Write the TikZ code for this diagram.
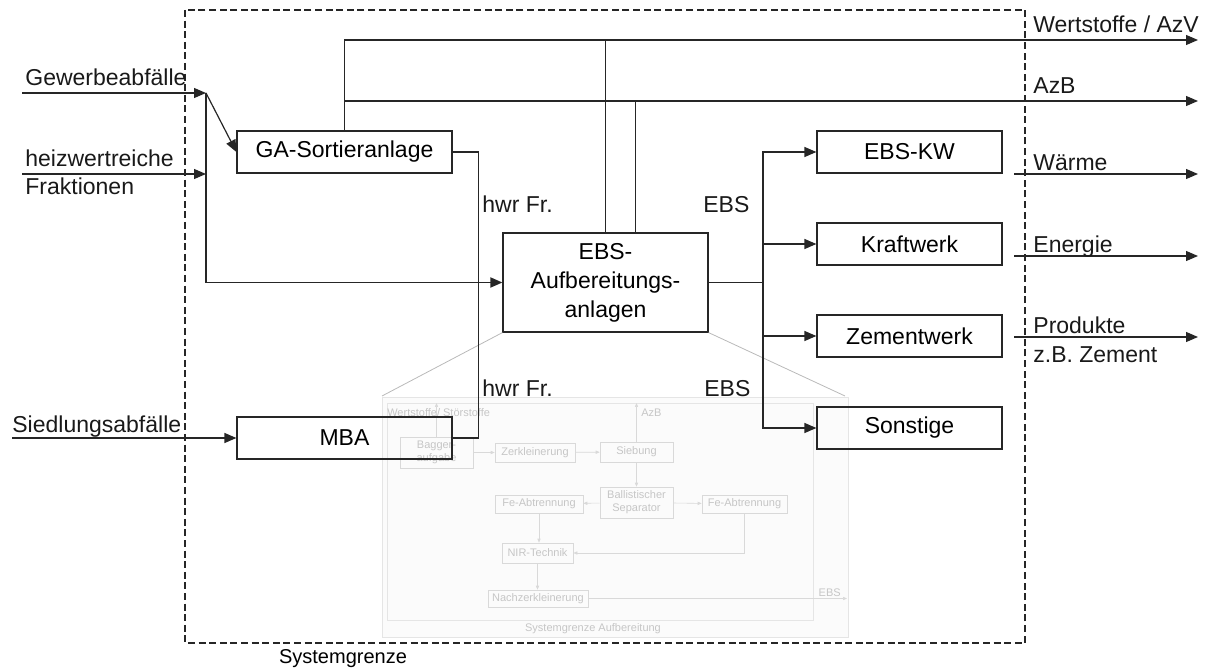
\documentclass[tikz,border=0pt]{standalone}
\usepackage{fontspec}
\setmainfont{Liberation Sans}
\usetikzlibrary{arrows.meta}

\tikzstyle{stage} = [rectangle, draw=black!85, line width=0.6pt, minimum width=107.5pt,
minimum height=21pt, inner sep=0pt, align=center, font=\fontsize{11.5}{14.5}\selectfont]
\tikzstyle{plant} = [stage, minimum width=92.5pt, node distance=46pt]
\tikzstyle{tag} = [inner sep=0pt, anchor=base west, font=\fontsize{11.5}{14}\selectfont, text=black!90]
\tikzstyle{flow} = [draw=black!85, line width=0.6pt]
\tikzstyle{arrow} = [flow, -{Triangle[length=6pt,width=5pt]}]
\tikzstyle{faint} = [rectangle, draw=gray!30, line width=0.3pt, inner sep=0pt, align=center,
text=gray!45, font=\fontsize{5.5}{6.5}\selectfont]
\tikzstyle{faintline} = [draw=gray!30, line width=0.3pt, -{Triangle[length=2pt,width=1.6pt]}]

\begin{document}
\begin{tikzpicture}[x=0.5pt, y=-0.5pt]
\useasboundingbox (0,0) rectangle (1211,668);

% Systemgrenze
\draw[black!85, line width=0.7pt, dash pattern=on 3.5pt off 1.8pt] (185,10) rectangle (1025,643);
\node[font=\fontsize{10}{12}\selectfont, anchor=base, inner sep=0pt] (sysGrenze) at (343,663) {Systemgrenze};

% Detail of the EBS plant (faded)
\draw[gray!20, fill=gray!3, line width=0.4pt] (382,397) rectangle (848,637);
\draw[gray!20, line width=0.3pt] (387,403) rectangle (813,620);
\node[faint, minimum width=36.5pt, minimum height=15.5pt] (bagger) at (436.5,452.5) {Bagger-\\aufgabe};
\node[faint, minimum width=40pt, minimum height=9.5pt] (zerkl) at (535,452.5) {Zerkleinerung};
\node[faint, minimum width=36.5pt, minimum height=10pt] (sieb) at (636.5,452) {Siebung};
\node[faint, minimum width=36.5pt, minimum height=15.5pt] (ballist) at (636.5,502.5) {Ballistischer\\Separator};
\node[faint, minimum width=44pt, minimum height=9pt] (feLinks) at (539,504) {Fe-Abtrennung};
\node[faint, minimum width=42.5pt, minimum height=9pt] (feRechts) at (744.5,504) {Fe-Abtrennung};
\node[faint, minimum width=35.5pt, minimum height=10pt] (nir) at (537.5,553) {NIR-Technik};
\node[faint, minimum width=50pt, minimum height=8.5pt] (nachz) at (538,598.5) {Nachzerkleinerung};
\node[faint, draw=none, anchor=west] (wsKlein) at (387,413) {Wertstoffe/ Störstoffe};
\node[faint, draw=none, anchor=west] (azbKlein) at (641,413) {AzB};
\node[faint, draw=none, anchor=south east] (ebsKlein) at (841,597) {EBS};
\node[faint, draw=none] (sysKlein) at (593,629) {Systemgrenze Aufbereitung};
\coordinate (baggerOut) at (436.5,403);
\coordinate (siebOut) at (636.5,403);
\coordinate (nachzOut) at (847,598.5);

\path[faintline] (bagger) -- (zerkl);
\path[faintline] (zerkl) -- (sieb);
\path[faintline] (bagger.north) -- (baggerOut);
\path[faintline] (sieb.north) -- (siebOut);
\path[faintline] (sieb) -- (ballist);
\path[faintline] (ballist) -- (feLinks);
\path[faintline] (ballist) -- (feRechts);
\path[faintline] (feLinks.south) -- (feLinks.south |- nir.north);
\path[faintline] (feRechts.south) |- (nir.east);
\path[faintline] (nir.south) -- (nir.south |- nachz.north);
\path[faintline] (nachz.east) -- (nachzOut);

% Plants
\node[stage] (gaSort) at (344.5,152) {GA-Sortieranlage};
\node[stage] (mba) at (344.5,438) {MBA};
\node[stage, minimum width=102.5pt, minimum height=49.5pt] (ebsAuf) at (605.5,282.5) {EBS-\\Aufbereitungs-\\anlagen};

% Users of the EBS
\node[plant] (ebsKW) at (909.5,152) {EBS-KW};
\node[plant, below of=ebsKW] (kraftwerk) {Kraftwerk};
\node[plant, below of=kraftwerk] (zementwerk) {Zementwerk};
\node[plant, below of=zementwerk] (sonstige) {Sonstige};

% Zoom lines to the detail
\draw[gray!55, line width=0.4pt] (ebsAuf.south west) -- (382,396);
\draw[gray!55, line width=0.4pt] (ebsAuf.south east) -- (845,396);

% Inputs
\coordinate (gewIn) at (22,93);
\coordinate (split) at (206,93);
\coordinate (hwIn) at (22,174);
\coordinate (siedIn) at (12,438);
\path[arrow] (gewIn) -- (split);
\path[arrow] (split) -- (gaSort.west);
\path[arrow] (hwIn) -- (split |- hwIn);
\path[arrow, line width=0.9pt] (split) |- (ebsAuf.west);
\path[arrow] (siedIn) -- (mba.west);
\path[flow] (gaSort.east) -- ++(13pt,0) |- (mba.east);

% Wertstoffe and AzB
\coordinate (wsOut) at (1198,40);
\coordinate (azbOut) at (1198,101);
\path[arrow] (gaSort.north) |- (wsOut);
\path[arrow] (gaSort.north |- azbOut) -- (azbOut);
\path[flow] (ebsAuf.north) -- (ebsAuf.north |- wsOut);
\path[flow] ([xshift=15pt]ebsAuf.north) -- ([xshift=15pt]ebsAuf.north |- azbOut);

% EBS distribution
\coordinate (ebsSplit) at (763,282.5);
\path[flow, line width=0.9pt] (ebsAuf.east) -- (ebsSplit);
\path[arrow] (ebsSplit) |- (ebsKW);
\path[arrow] (ebsSplit) |- (kraftwerk);
\path[arrow] (ebsSplit) |- (zementwerk);
\path[arrow] (ebsSplit) |- (sonstige);

% Outputs
\coordinate (waermeA) at (1014,174);
\coordinate (waermeB) at (1198,174);
\coordinate (energieA) at (1014,256);
\coordinate (energieB) at (1198,256);
\coordinate (produktA) at (1014,337);
\coordinate (produktB) at (1198,337);
\path[arrow] (waermeA) -- (waermeB);
\path[arrow] (energieA) -- (energieB);
\path[arrow] (produktA) -- (produktB);

% Texts
\node[tag] (gewTxt) at (25,86) {Gewerbeabfälle};
\node[tag] (hwTxt) at (25,167) {heizwertreiche};
\node[tag] (fraktTxt) at (25,195) {Fraktionen};
\node[tag] (siedTxt) at (12,432) {Siedlungsabfälle};
\node[tag] (hwrObenTxt) at (482,213) {hwr Fr.};
\node[tag] (hwrUntenTxt) at (482,397) {hwr Fr.};
\node[tag] (ebsObenTxt) at (703,213) {EBS};
\node[tag] (ebsUntenTxt) at (704,397) {EBS};
\node[tag] (wsTxt) at (1033,33) {Wertstoffe / AzV};
\node[tag] (azbTxt) at (1033,94) {AzB};
\node[tag] (waermeTxt) at (1033,171) {Wärme};
\node[tag] (energieTxt) at (1033,253) {Energie};
\node[tag] (produktTxt) at (1033,334) {Produkte};
\node[tag] (zementTxt) at (1033,363) {z.B. Zement};
\end{tikzpicture}
\end{document}
